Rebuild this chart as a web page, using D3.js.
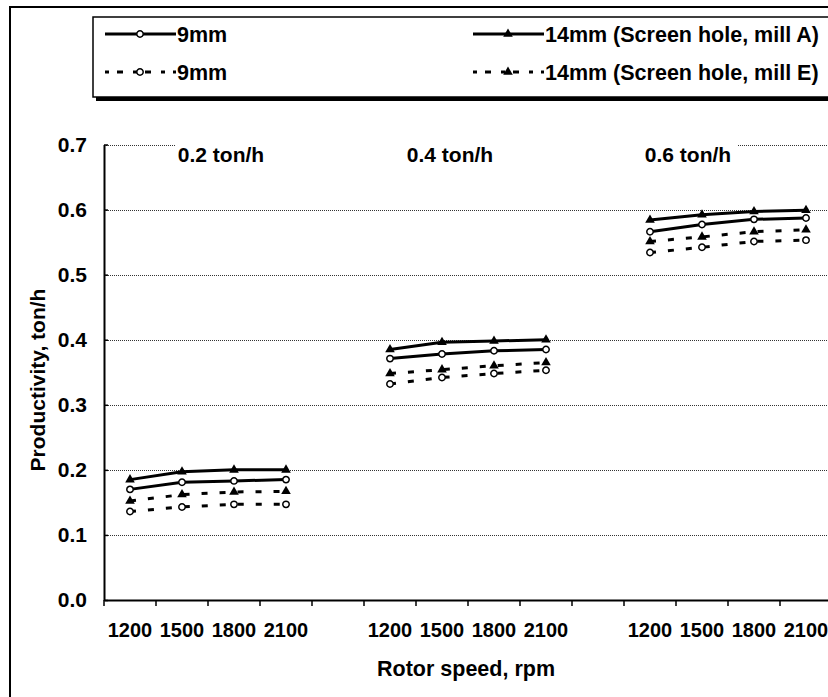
<!DOCTYPE html>
<html>
<head>
<meta charset="utf-8">
<script src="https://cdn.jsdelivr.net/npm/d3@7"></script>
<style>
  html, body { margin: 0; padding: 0; background: #fff; }
  svg text { font-family: "Liberation Sans", Arial, sans-serif; font-weight: bold; fill: #000; }
</style>
</head>
<body>
<svg id="chart" width="828" height="697"></svg>
<script>
// Rotor speeds tested within each feed-rate group
const speeds = ["1200", "1500", "1800", "2100"];
// Feed-rate groups (annotated above each cluster)
const feedRates = ["0.2 ton/h", "0.4 ton/h", "0.6 ton/h"];
// Y-axis ticks
const yTicks = [0, 0.1, 0.2, 0.3, 0.4, 0.5, 0.6, 0.7];

// Productivity (ton/h), 4 speeds x 3 feed rates, in group order
const mm9MillA  = [0.170, 0.181, 0.183, 0.185,  0.371, 0.378, 0.383, 0.385,  0.566, 0.577, 0.585, 0.587];
const mm14MillA = [0.185, 0.197, 0.200, 0.200,  0.385, 0.396, 0.398, 0.400,  0.584, 0.592, 0.597, 0.599];
const mm9MillE  = [0.136, 0.143, 0.147, 0.147,  0.332, 0.342, 0.348, 0.353,  0.534, 0.542, 0.551, 0.553];
const mm14MillE = [0.152, 0.162, 0.166, 0.167,  0.348, 0.354, 0.360, 0.365,  0.551, 0.558, 0.566, 0.569];

const seriesNames = ["9mm", "14mm (Screen hole, mill A)", "9mm", "14mm (Screen hole, mill E)"];

const series = [
  { name: seriesNames[0], values: mm9MillA,  dashed: false, marker: "circle" },
  { name: seriesNames[1], values: mm14MillA, dashed: false, marker: "triangle" },
  { name: seriesNames[2], values: mm9MillE,  dashed: true,  marker: "circle" },
  { name: seriesNames[3], values: mm14MillE, dashed: true,  marker: "triangle" }
];

const svg = d3.select("#chart");
const W = 828, H = 697;
const FONT = "Liberation Sans, Arial, sans-serif";

// Category slots: 4 speeds per group, with an empty slot between groups
const slots = [];
feedRates.forEach((g, gi) => {
  speeds.forEach(s => slots.push({ key: gi + "-" + s, label: s, group: gi }));
  if (gi < feedRates.length - 1) slots.push({ key: "gap" + gi, label: "", group: -1 });
});

const plot = { left: 104, top: 144.5, bottom: 600 };
const slotW = 52;

const x = d3.scaleBand()
  .domain(slots.map(d => d.key))
  .range([plot.left, plot.left + slots.length * slotW])
  .paddingInner(0).paddingOuter(0);

const y = d3.scaleLinear().domain([0, 0.7]).range([plot.bottom, plot.top]);

// Outer chart border
svg.append("rect")
  .attr("x", 10).attr("y", 7).attr("width", W + 20).attr("height", H + 20)
  .attr("fill", "#fff").attr("stroke", "#000").attr("stroke-width", 2);

// Gridlines (dotted)
svg.append("g").selectAll("line")
  .data(yTicks.filter(t => t > 0))
  .join("line")
  .attr("x1", plot.left).attr("x2", W)
  .attr("y1", d => Math.round(y(d)) + 0.5).attr("y2", d => Math.round(y(d)) + 0.5)
  .attr("stroke", "#333").attr("stroke-width", 1).attr("stroke-dasharray", "1,1");

// White band behind the feed-rate labels
svg.append("rect")
  .attr("x", 175).attr("y", y(0.7) - 6).attr("width", 562).attr("height", 12)
  .attr("fill", "#fff");

// Y axis
const yAxis = d3.axisLeft(y).tickValues(yTicks).tickFormat(d3.format(".1f")).tickSize(0).tickPadding(17);
const gy = svg.append("g").attr("transform", `translate(${plot.left},0)`).call(yAxis);
gy.select(".domain").attr("stroke", "#000").attr("stroke-width", 2);
gy.selectAll("text").attr("font-size", 21).attr("font-family", FONT).attr("font-weight", "bold");
gy.selectAll(".tick").append("line").attr("x1", 0).attr("x2", 4).attr("stroke", "#000").attr("stroke-width", 1.5);

// X axis: labels centred in slots, tick marks on slot boundaries
const xAxis = d3.axisBottom(x).tickFormat(k => slots.find(s => s.key === k).label).tickSize(0).tickPadding(23);
const gx = svg.append("g").attr("transform", `translate(0,${plot.bottom})`).call(xAxis);
gx.select(".domain").attr("stroke", "#000").attr("stroke-width", 2);
gx.selectAll("text").attr("font-size", 20).attr("font-family", FONT).attr("font-weight", "bold");
svg.append("g").selectAll("line")
  .data(slots.map((d, i) => i))
  .join("line")
  .attr("x1", i => plot.left + i * x.step()).attr("x2", i => plot.left + i * x.step())
  .attr("y1", plot.bottom).attr("y2", plot.bottom + 6)
  .attr("stroke", "#000").attr("stroke-width", 1.5);

// Feed-rate annotations
const groupLabelX = [221, 450, 688];
svg.append("g").selectAll("text")
  .data(feedRates)
  .join("text")
  .attr("x", (d, i) => groupLabelX[i]).attr("y", 162)
  .attr("text-anchor", "middle").attr("font-size", 21)
  .text(d => d);

// Axis titles
svg.append("text")
  .attr("x", 466).attr("y", 676).attr("text-anchor", "middle").attr("font-size", 21.5)
  .text("Rotor speed, rpm");
svg.append("text")
  .attr("transform", "translate(45,380) rotate(-90)")
  .attr("text-anchor", "middle").attr("font-size", 21)
  .text("Productivity, ton/h");

// Series lines and markers
const triangle = d3.symbol().type(d3.symbolTriangle).size(40);

function drawMarker(sel, type) {
  if (type === "circle") {
    sel.append("circle").attr("r", 3.2).attr("fill", "#fff").attr("stroke", "#000").attr("stroke-width", 1.5);
  } else {
    sel.append("path").attr("d", triangle).attr("fill", "#000");
  }
}

series.forEach(s => {
  const g = svg.append("g");
  feedRates.forEach((fr, gi) => {
    const pts = speeds.map((sp, si) => ({ key: gi + "-" + sp, v: s.values[gi * speeds.length + si] }));
    const line = d3.line().x(d => x(d.key) + x.bandwidth() / 2).y(d => y(d.v));
    g.append("path").datum(pts)
      .attr("d", line).attr("fill", "none").attr("stroke", "#000")
      .attr("stroke-width", 3)
      .attr("stroke-dasharray", s.dashed ? "6,12" : null);
    pts.forEach(p => {
      const m = g.append("g").attr("transform", `translate(${x(p.key) + x.bandwidth() / 2},${y(p.v)})`);
      drawMarker(m, s.marker);
    });
  });
});

// Legend with drop shadow
const leg = { x: 93, y: 17, w: W, h: 80 };
svg.append("rect").attr("x", leg.x + 3).attr("y", leg.y + 4).attr("width", leg.w).attr("height", leg.h).attr("fill", "#000");
svg.append("rect").attr("x", leg.x).attr("y", leg.y).attr("width", leg.w).attr("height", leg.h)
  .attr("fill", "#fff").attr("stroke", "#000").attr("stroke-width", 1.5);

const legendPos = [
  { x: 105, y: 34 }, { x: 473, y: 34 },
  { x: 105, y: 72 }, { x: 473, y: 72 }
];
series.forEach((s, i) => {
  const p = legendPos[i];
  const g = svg.append("g").attr("transform", `translate(${p.x},${p.y})`);
  g.append("line").attr("x1", 0).attr("x2", 71).attr("y1", 0).attr("y2", 0)
    .attr("stroke", "#000").attr("stroke-width", 3)
    .attr("stroke-dasharray", s.dashed ? "4,8,6,10" : null);
  drawMarker(g.append("g").attr("transform", "translate(35,0)"), s.marker);
  g.append("text").attr("x", 72).attr("y", 8).attr("font-size", 21.5).text(s.name);
});
</script>
</body>
</html>
